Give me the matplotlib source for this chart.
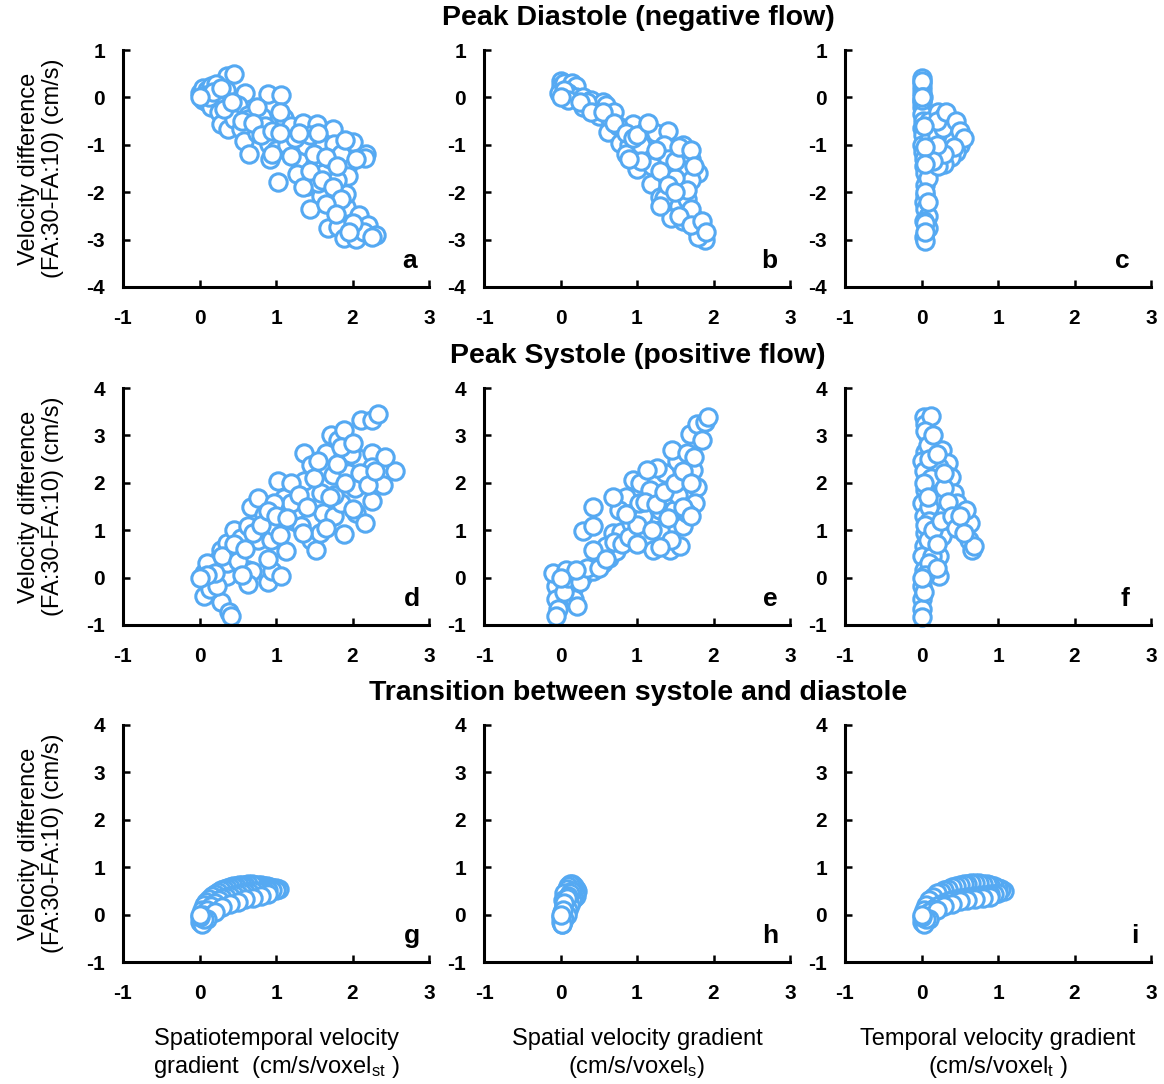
import matplotlib
matplotlib.use("Agg")
import matplotlib.pyplot as plt

plt.rcParams['font.family'] = ['Liberation Sans', 'DejaVu Sans']
plt.rcParams['mathtext.default'] = 'regular'
plt.rcParams['axes.unicode_minus'] = False

BLUE = '#55A9F2'

# ---- Peak diastole ----
a_x = [0.0, 0.05, 0.1, 0.15, 0.2, 0.1, 0.05, 0.2, 0.25, 0.3, 0.15, 0.25, 0.36, 0.45, 0.21, 0.35,
       0.6, 0.89, 1.06, 0.4, 0.5, 0.63, 0.63, 0.82, 0.75, 1.11, 0.28, 0.37, 0.45, 0.54, 0.58, 0.65,
       0.75, 0.91, 0.92, 0.85, 1.11, 1.0, 1.02, 1.15, 1.2, 1.35, 1.54, 1.74, 1.39, 1.61, 1.31, 1.5,
       1.63, 1.76, 2.0, 2.18, 2.16, 1.94, 1.94, 1.28, 1.41, 1.59, 1.72, 1.44, 1.92, 1.92, 2.09, 1.68,
       1.81, 1.89, 2.05, 2.2, 2.15, 2.31, 1.19, 1.25, 1.45, 1.7, 1.85, 1.8, 1.55, 1.35, 2.0,
       0.08, 0.12, 0.18, 0.28, 0.32, 0.42, 0.55, 0.7, 0.8, 0.95, 1.05, 1.3, 1.5, 1.65, 1.8, 1.45,
       1.6, 1.75, 1.85, 1.65, 1.78, 2.0, 1.95, 2.25, 1.05, 0.95, 2.05, 1.9, 1.55, 0.0]
a_y = [0.1, 0.2, 0.15, 0.25, 0.1, -0.1, -0.05, -0.05, 0.05, -0.1, -0.2, -0.3, 0.46, 0.49, 0.28, 0.15,
       0.09, 0.07, 0.05, -0.26, -0.15, -0.37, -0.45, -0.42, -0.2, -0.44, -0.56, -0.66, -0.45, -0.67, -0.91, -1.19,
       -0.75, -0.98, -1.31, -0.6, -0.81, -1.1, -1.79, -1.0, -0.6, -0.53, -0.56, -0.67, -1.02, -1.02, -1.37, -1.44,
       -1.59, -0.98, -1.12, -1.19, -1.28, -1.42, -1.65, -1.61, -1.86, -2.07, -2.28, -2.35, -2.31, -2.03, -2.49, -2.76,
       -2.73, -2.97, -2.98, -2.7, -2.85, -2.9, -1.23, -0.85, -0.8, -1.3, -1.2, -1.75, -1.8, -1.9, -0.95,
       0.05, 0.0, 0.12, 0.2, -0.25, -0.1, -0.5, -0.55, -0.8, -0.7, -0.3, -0.75, -1.2, -1.25, -1.45, -1.55,
       -1.75, -1.9, -2.15, -2.25, -2.45, -2.65, -2.85, -2.95, -0.75, -1.2, -1.3, -0.9, -0.75, 0.0]

b_x = [0.0, 0.0, -0.02, 0.05, 0.15, 0.2, 0.1, 0.2, 0.3, 0.4, 0.3, 0.45, 0.55, 0.6, 0.5, 0.65,
       0.7, 0.62, 0.78, 0.9, 0.95, 1.1, 1.0, 0.85, 1.1, 1.25, 1.4, 1.35, 1.4, 1.6, 1.7, 1.8,
       1.6, 1.7, 1.5, 1.18, 1.3, 1.35, 1.55, 1.65, 1.45, 1.6, 1.75, 1.85, 1.77, 1.89, 1.8, 1.7,
       1.2, 1.05, 0.75, 0.35,
       0.05, 0.1, 0.25, 0.4, 0.55, 0.7, 0.85, 0.95, 1.05, 1.25, 1.3, 1.5, 1.55, 1.7, 1.75, 1.65,
       1.4, 1.3, 1.55, 1.7, 1.85, 1.9, 1.0, 1.15, 0.9, 1.5, 0.0]
b_y = [0.35, 0.25, 0.1, 0.3, 0.3, 0.25, 0.1, 0.0, 0.0, -0.05, -0.2, -0.25, -0.1, -0.15, -0.4, -0.45,
       -0.3, -0.73, -0.97, -1.0, -0.56, -0.7, -1.5, -1.2, -1.2, -0.75, -0.7, -1.0, -1.29, -1.0, -1.3, -1.6,
       -1.54, -1.75, -1.7, -1.83, -2.1, -2.13, -2.3, -2.15, -2.55, -2.6, -2.55, -2.8, -2.78, -3.0, -2.95, -2.35,
       -1.45, -1.0, -0.6, -0.1,
       0.15, -0.05, -0.1, -0.3, -0.3, -0.55, -0.75, -0.85, -1.35, -1.1, -1.55, -1.35, -1.05, -1.1, -1.45, -1.95,
       -1.85, -2.3, -2.5, -2.7, -2.6, -2.85, -0.8, -0.55, -1.3, -2.0, 0.0]

c_x = [0.0, 0.0, 0.0, 0.0, 0.0, 0.0, 0.0, 0.02, 0.0, 0.02, 0.0, 0.02, 0.03, 0.03, 0.05, 0.05,
       0.05, 0.03, 0.05, 0.08, 0.03, 0.08, 0.03, 0.05, 0.08, 0.1, 0.1, 0.1,
       0.22, 0.25, 0.3, 0.35, 0.42, 0.47, 0.52, 0.5, 0.45, 0.38, 0.3, 0.22, 0.25, 0.3, 0.35, 0.4,
       0.2, 0.28, 0.18,
       0.2, 0.32, 0.45, 0.5, 0.55, 0.42, 0.3, 0.2, 0.15,
       0.0, 0.02, 0.0, 0.03, 0.05, 0.05, 0.05, 0.08, 0.05, 0.05, 0.0]
c_y = [0.4, 0.3, 0.2, 0.1, -0.1, -0.2, -0.35, -0.5, -0.65, -0.8, -1.0, -1.15, -1.3, -1.45, -1.6, -1.85,
       -2.05, -2.2, -2.35, -2.5, -2.6, -2.75, -2.95, -3.02, -1.7, -1.3, -0.9, -0.5,
       -0.3, -0.5, -0.4, -0.55, -0.65, -0.75, -0.9, -1.0, -1.15, -1.25, -1.4, -1.45, -1.1, -0.85, -0.95, -0.85,
       -0.8, -0.65, -1.2,
       -0.5, -0.3, -0.5, -0.7, -0.85, -1.05, -1.2, -1.0, -1.35,
       0.35, 0.0, -0.05, -0.6, -1.05, -1.4, -2.0, -2.2, -2.65, -2.85, 0.0]

# ---- Peak systole ----
d_x = [0.06, 0.14, 0.23, 0.28, 0.36, 0.45, 0.54, 0.63, 0.67, 0.76, 0.84, 0.76, 0.93, 0.98, 1.02, 1.11,
       1.13, 1.24, 1.26, 1.37, 1.37, 1.46, 1.46, 1.52, 1.57, 1.59, 1.61, 1.65, 1.74, 1.72, 1.81, 1.89,
       1.76, 1.89, 1.85, 2.03, 2.07, 2.05, 2.16, 2.11, 2.25, 2.33, 2.25, 2.25, 2.25, 2.4, 2.55, 2.42,
       1.94, 0.63, 0.69, 0.63, 0.89, 0.95, 1.06, 0.36, 0.28, 0.39, 0.41, 0.06, 0.14, 0.23, 1.19, 1.33,
       0.98, 0.45, 0.54, 0.36, 1.76, 1.98,
       0.1, 0.2, 0.3, 0.45, 0.5, 0.6, 0.7, 0.8, 0.9, 1.0, 1.05, 1.15, 1.2, 1.3, 1.4, 1.5,
       1.55, 1.7, 1.8, 1.9, 2.0, 2.1, 2.2, 2.3, 1.65, 1.35, 1.85, 2.0, 0.55, 0.9, 0.1, 0.0]
d_y = [0.1, 0.2, 0.35, 0.59, 0.73, 1.01, 0.84, 1.08, 1.5, 1.68, 1.33, 0.8, 0.8, 1.08, 2.03, 1.68,
       0.56, 1.19, 1.43, 2.03, 2.62, 2.38, 0.8, 0.59, 0.94, 1.78, 1.36, 2.62, 2.17, 3.0, 2.9, 3.11,
       1.29, 0.91, 1.57, 1.89, 2.52, 1.36, 1.15, 3.32, 3.32, 3.46, 2.62, 2.34, 1.61, 1.96, 2.24, 2.55,
       2.2, 0.17, 0.14, -0.14, -0.1, 0.14, 0.03, 0.03, -0.52, -0.73, -0.8, -0.38, -0.24, -0.17, 1.57, 1.08,
       1.57, 0.45, 0.56, 0.31, 1.75, 2.6,
       0.3, 0.1, 0.45, 0.7, 0.35, 0.6, 0.95, 1.1, 1.4, 1.3, 0.9, 1.25, 2.0, 1.75, 1.5, 2.1,
       2.45, 1.7, 2.4, 2.0, 1.45, 2.2, 1.95, 2.25, 1.05, 0.95, 2.75, 2.85, 0.05, 0.4, 0.05, 0.0]

e_x = [-0.06, -0.06, -0.03, -0.06, 0.16, 0.18, 0.21, 0.12, 0.29, 0.42, 0.55, 0.64, 0.73, 0.6, 0.42, 0.29,
       0.42, 0.42, 0.69, 0.79, 0.92, 0.86, 0.95, 1.04, 1.08, 1.21, 1.17, 1.3, 1.3, 1.43, 1.56, 1.6,
       1.48, 1.54, 1.37, 1.52, 1.26, 1.46, 1.65, 1.73, 1.78, 1.76, 1.69, 1.78, 1.89, 1.93, 1.65, 1.13,
       1.03, 0.77, 0.68,
       0.05, 0.1, 0.25, 0.35, 0.5, 0.6, 0.7, 0.8, 0.9, 1.0, 1.1, 1.2, 1.25, 1.35, 1.4, 1.5,
       1.6, 1.7, 1.75, 1.85, 1.6, 1.45, 1.3, 1.7, 1.0, 0.85, -0.1, 0.07, 0.2, 0.0]
e_y = [-0.17, -0.45, -0.66, -0.8, -0.24, -0.45, -0.59, 0.05, 0.03, 0.14, 0.31, 0.42, 0.56, 0.66, 0.59, 0.98,
       1.08, 1.5, 0.94, 0.96, 1.15, 1.71, 2.06, 1.99, 1.29, 0.59, 1.85, 1.43, 1.01, 0.59, 0.66, 1.08,
       1.43, 1.75, 2.2, 2.45, 2.31, 2.69, 2.62, 2.27, 1.92, 1.57, 3.04, 3.25, 3.29, 3.39, 1.36, 2.27,
       1.57, 1.43, 1.71,
       -0.3, 0.0, -0.1, 0.2, 0.2, 0.4, 0.75, 0.7, 0.85, 1.1, 1.6, 1.0, 1.55, 1.8, 1.25, 2.0,
       2.25, 2.0, 2.55, 2.9, 1.5, 0.8, 0.65, 1.3, 0.7, 1.35, 0.1, 0.17, 0.17, 0.0]

f_x = [0.27, 0.34, 0.38, 0.42, 0.47, 0.53, 0.62, 0.66, 0.68, 0.64, 0.58, 0.31, 0.27, 0.23, 0.23, 0.18,
       0.23, 0.03, 0.05, 0.07, 0.05, 0.01, 0.03, 0.05, 0.01, 0.03, 0.05, 0.03, 0.01, 0.03, 0.01, 0.0,
       0.01, 0.01, 0.14, 0.1, 0.12, 0.12,
       0.05, 0.08, 0.1, 0.03, 0.08, 0.1, 0.05, 0.08, 0.1, 0.05, 0.03, 0.15, 0.2, 0.25, 0.3, 0.35,
       0.4, 0.45, 0.5, 0.55, 0.2, 0.3, 0.15, 0.2, 0.0]
f_y = [2.69, 2.41, 2.13, 1.78, 1.57, 1.08, 0.8, 0.59, 0.66, 1.15, 1.43, 1.36, 0.87, 0.45, 0.03, 1.92,
       2.34, 3.39, 3.25, 3.04, 2.66, 2.45, 2.24, 1.85, 1.57, 1.29, 0.94, 0.66, 0.45, 0.17, -0.17, -0.45,
       -0.66, -0.84, 0.45, 1.5, 2.1, 3.4,
       3.1, 2.8, 2.5, 2.0, 1.7, 1.2, 1.1, 0.8, 0.3, 0.05, -0.3, 1.0, 0.7, 1.2, 1.9, 1.6,
       1.3, 1.05, 1.3, 0.95, 2.6, 2.2, 3.0, 0.2, 0.0]

# ---- Transition ----
g_x = [1.04, 1.0, 0.96, 0.92, 0.88, 0.84, 0.8, 0.76, 0.72, 0.68, 0.64, 0.6, 0.56, 0.52, 0.48, 0.44,
       0.4, 0.36, 0.32, 0.28, 0.24, 0.2, 0.16, 0.12, 0.09, 0.06, 0.03,
       1.0, 0.95, 0.9, 0.85, 0.8, 0.75, 0.7, 0.65, 0.6, 0.55, 0.5, 0.45, 0.4, 0.35, 0.3, 0.25,
       0.2, 0.15, 0.1, 0.05,
       0.9, 0.8, 0.7, 0.6, 0.5, 0.4, 0.3, 0.2, 0.1,
       0.0, 0.03, 0.06, 0.0, 0.0]
g_y = [0.55, 0.56, 0.57, 0.58, 0.6, 0.61, 0.62, 0.63, 0.63, 0.64, 0.64, 0.63, 0.63, 0.62, 0.61, 0.6,
       0.58, 0.56, 0.54, 0.51, 0.48, 0.44, 0.39, 0.33, 0.27, 0.2, 0.1,
       0.52, 0.51, 0.51, 0.5, 0.5, 0.5, 0.49, 0.48, 0.47, 0.45, 0.44, 0.42, 0.4, 0.37, 0.34, 0.3,
       0.25, 0.18, 0.1, 0.0,
       0.43, 0.4, 0.36, 0.32, 0.27, 0.22, 0.15, 0.05, -0.1,
       -0.15, -0.2, -0.1, -0.05, 0.0]

h_x = [0.22, 0.2, 0.18, 0.15, 0.12, 0.1, 0.08, 0.05, 0.03, 0.05, 0.02, 0.0,
       0.2, 0.18, 0.15, 0.13, 0.1, 0.08, 0.05, 0.02,
       0.15, 0.12, 0.1, 0.08, 0.05, 0.03, 0.0, 0.02, 0.0]
h_y = [0.5, 0.55, 0.6, 0.65, 0.65, 0.6, 0.55, 0.45, 0.3, 0.15, 0.05, -0.15,
       0.4, 0.35, 0.3, 0.2, 0.1, 0.0, -0.1, -0.2,
       0.5, 0.45, 0.4, 0.35, 0.25, 0.1, -0.05, -0.2, 0.0]

i_x = [1.08, 1.04, 1.0, 0.95, 0.9, 0.85, 0.8, 0.75, 0.7, 0.65, 0.6, 0.55, 0.5, 0.45, 0.4, 0.35,
       0.3, 0.25, 0.2, 0.15, 0.1, 0.06, 0.03,
       1.0, 0.95, 0.9, 0.85, 0.8, 0.75, 0.7, 0.65, 0.6, 0.55, 0.5, 0.45, 0.4, 0.35, 0.3, 0.25, 0.2,
       0.15, 0.1,
       0.9, 0.8, 0.7, 0.6, 0.5, 0.4, 0.3, 0.2, 0.1,
       0.0, 0.03, 0.06, 0.0, 0.0]
i_y = [0.5, 0.53, 0.56, 0.6, 0.62, 0.64, 0.65, 0.66, 0.66, 0.66, 0.65, 0.64, 0.62, 0.6, 0.58, 0.55,
       0.52, 0.48, 0.45, 0.38, 0.3, 0.2, 0.1,
       0.45, 0.44, 0.43, 0.42, 0.41, 0.4, 0.39, 0.38, 0.37, 0.36, 0.35, 0.33, 0.31, 0.28, 0.25, 0.22, 0.18,
       0.12, 0.05,
       0.38, 0.35, 0.33, 0.3, 0.28, 0.22, 0.18, 0.1, -0.1,
       -0.15, -0.2, -0.1, -0.05, 0.0]

panels = [(a_x, a_y, 'a'), (b_x, b_y, 'b'), (c_x, c_y, 'c'),
          (d_x, d_y, 'd'), (e_x, e_y, 'e'), (f_x, f_y, 'f'),
          (g_x, g_y, 'g'), (h_x, h_y, 'h'), (i_x, i_y, 'i')]

row_titles = ['Peak Diastole (negative flow)', 'Peak Systole (positive flow)',
              'Transition between systole and diastole']
row_ylims = [(-4, 1), (-1, 4), (-1, 4)]
x_labels = ['Spatiotemporal velocity\ngradient  (cm/s/voxel$_{st}$ )',
            'Spatial velocity gradient\n(cm/s/voxel$_{s}$)',
            'Temporal velocity gradient\n(cm/s/voxel$_{t}$ )']
ylabel = 'Velocity difference\n(FA:30-FA:10) (cm/s)'

W, H = 1164, 1084
lefts = [123, 484, 845]
tops = [50, 388, 725]
aw, ah = 306, 237
letter_x = [0.96, 0.96, 0.93, 0.97, 0.96, 0.93, 0.97, 0.96, 0.96]
title_y = [18, 356, 693]

fig = plt.figure(figsize=(W / 100, H / 100), dpi=100)

for k, (xs, ys, letter) in enumerate(panels):
    r, c = divmod(k, 3)
    ax = fig.add_axes([lefts[c] / W, 1 - (tops[r] + ah) / H, aw / W, ah / H])
    ax.plot(xs, ys, 'o', ls='none', ms=12.5, mfc='white', mec=BLUE, mew=2.2, clip_on=False)
    ax.set_xlim(-1, 3)
    ax.set_ylim(*row_ylims[r])
    ax.set_xticks(range(-1, 4))
    ax.set_yticks(range(row_ylims[r][0], row_ylims[r][1] + 1))
    for s in ['top', 'right']:
        ax.spines[s].set_visible(False)
    for s in ['left', 'bottom']:
        ax.spines[s].set_linewidth(2.2)
    ax.tick_params(direction='in', length=5, width=1.8, labelsize=15)
    ax.tick_params(axis='x', pad=16)
    ax.tick_params(axis='y', pad=13)
    for t in ax.get_xticklabels() + ax.get_yticklabels():
        t.set_fontweight('bold')
    ax.text(letter_x[k], 0.08, letter, transform=ax.transAxes, ha='right', va='baseline',
            fontsize=19, fontweight='bold')
    if c == 0:
        ax.set_ylabel(ylabel, fontsize=17, labelpad=16, linespacing=1.1)
    if r == 2:
        ax.set_xlabel(x_labels[c], fontsize=17, labelpad=18, linespacing=1.2)

for r in range(3):
    fig.text(638 / W, 1 - title_y[r] / H, row_titles[r], ha='center', va='center',
             fontsize=20.5, fontweight='bold')

fig.savefig('out.png', dpi=100)
